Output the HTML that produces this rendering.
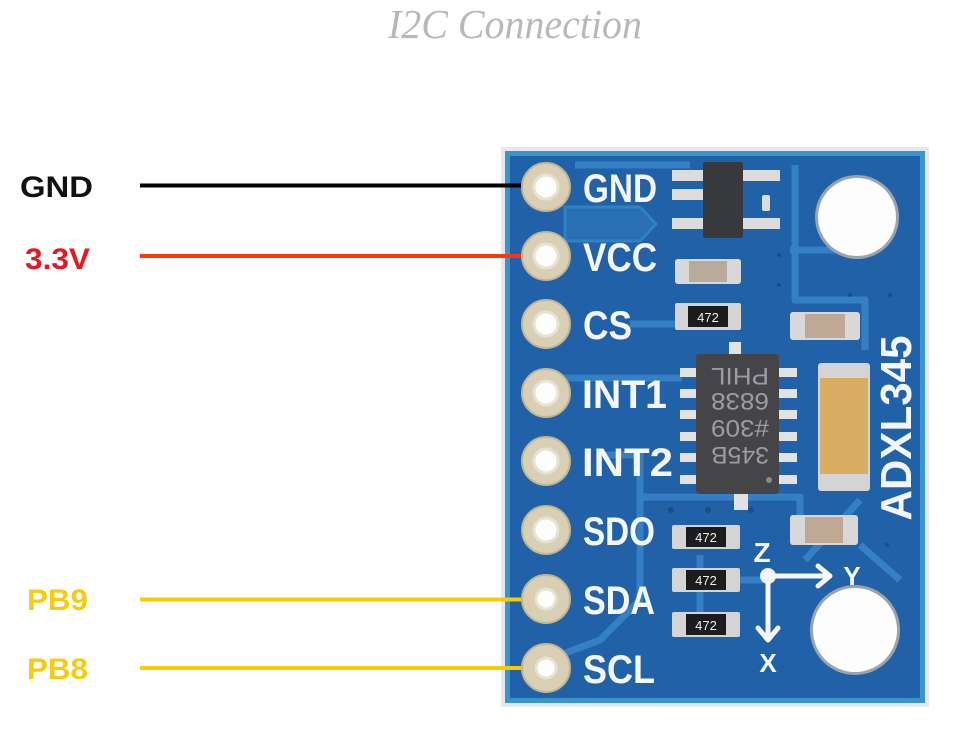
<!DOCTYPE html>
<html><head><meta charset="utf-8"><style>
html,body{margin:0;padding:0;background:#fff;}
svg{display:block;}
</style></head><body>
<svg width="960" height="731" viewBox="0 0 960 731" xmlns="http://www.w3.org/2000/svg">
<rect width="960" height="731" fill="#fff"/>
<!-- title -->
<text x="388" y="38" font-family="Liberation Serif, serif" font-style="italic" font-size="41" fill="#b8b8b8" textLength="254" lengthAdjust="spacingAndGlyphs">I2C Connection</text>

<!-- left labels -->
<g font-family="Liberation Sans, sans-serif" font-weight="bold" font-size="30">
<text x="20" y="197" fill="#111" textLength="73" lengthAdjust="spacingAndGlyphs">GND</text>
<text x="25" y="269" fill="#e8161e" textLength="65" lengthAdjust="spacingAndGlyphs">3.3V</text>
<text x="27" y="610" fill="#f7cb10" textLength="61" lengthAdjust="spacingAndGlyphs">PB9</text>
<text x="27" y="679" fill="#f7cb10" textLength="61" lengthAdjust="spacingAndGlyphs">PB8</text>
</g>

<!-- board -->
<rect x="501" y="147" width="428" height="560" fill="#e4e8ec"/>
<rect x="505" y="151" width="420" height="552" fill="#3a95cc"/>
<rect x="510" y="156" width="410" height="542" fill="#2161a8"/>

<!-- filled copper region -->
<path d="M565 207 L640 207 L656 224 L640 241 L565 241 Z" fill="#286fb3" stroke="#3180c2" stroke-width="3"/>

<!-- traces -->
<g fill="none" stroke="#3580c4" stroke-width="7" stroke-linejoin="round">
<path d="M575 165 L690 165"/>
<path d="M630 324 L676 324"/>
<path d="M560 378 L682 378"/>
<path d="M795 165 L795 300 L865 300 L865 350"/>
<path d="M790 250 L870 250"/>
<path d="M600 455 L640 455 L640 600 L600 640 L560 655"/>
<path d="M640 497 L800 497 L800 515"/>
<path d="M740 580 L768 580"/>
<path d="M700 555 L700 612"/>
<path d="M860 545 L900 580"/>
<path d="M805 560 L860 500"/>
</g>
<g fill="#1a4e8a">
<circle cx="779" cy="255" r="2"/><circle cx="779" cy="285" r="2"/><circle cx="850" cy="295" r="2"/><circle cx="890" cy="295" r="2"/>
<circle cx="671" cy="510" r="3"/><circle cx="708" cy="510" r="3"/><circle cx="751" cy="510" r="3"/><circle cx="887" cy="545" r="2"/>
</g>

<!-- wires -->
<line x1="140" y1="185.5" x2="528" y2="185.5" stroke="#000" stroke-width="4"/>
<line x1="140" y1="256" x2="528" y2="256" stroke="#ff3510" stroke-width="4"/>
<line x1="140" y1="599.5" x2="528" y2="599.5" stroke="#f7cb00" stroke-width="4"/>
<line x1="140" y1="668" x2="528" y2="668" stroke="#f7cb00" stroke-width="4"/>

<!-- pads -->
<g>
<g fill="#d8cfb4" stroke="#c2b594" stroke-width="2">
<circle cx="546" cy="187" r="24"/><circle cx="546" cy="256" r="24"/><circle cx="546" cy="324" r="24"/><circle cx="546" cy="393" r="24"/>
<circle cx="546" cy="461" r="24"/><circle cx="546" cy="530" r="24"/><circle cx="546" cy="599" r="24"/><circle cx="546" cy="668" r="24"/>
</g>
<g fill="#fdfdfb" stroke="#e8e2d2" stroke-width="3">
<circle cx="546" cy="187" r="12"/><circle cx="546" cy="256" r="12"/><circle cx="546" cy="324" r="12"/><circle cx="546" cy="393" r="12"/>
<circle cx="546" cy="461" r="12"/><circle cx="546" cy="530" r="12"/><circle cx="546" cy="599" r="10"/><circle cx="546" cy="668" r="10"/>
</g>
</g>

<!-- pin labels -->
<g font-family="Liberation Sans, sans-serif" font-weight="bold" font-size="40" fill="#f4f6f8">
<text x="583" y="202" textLength="74" lengthAdjust="spacingAndGlyphs">GND</text>
<text x="583" y="271" textLength="74" lengthAdjust="spacingAndGlyphs">VCC</text>
<text x="583" y="339" textLength="49" lengthAdjust="spacingAndGlyphs">CS</text>
<text x="582" y="408" textLength="85" lengthAdjust="spacingAndGlyphs">INT1</text>
<text x="582" y="476" textLength="91" lengthAdjust="spacingAndGlyphs">INT2</text>
<text x="583" y="545" textLength="72" lengthAdjust="spacingAndGlyphs">SDO</text>
<text x="583" y="614" textLength="72" lengthAdjust="spacingAndGlyphs">SDA</text>
<text x="583" y="683" textLength="72" lengthAdjust="spacingAndGlyphs">SCL</text>
</g>

<!-- regulator -->
<g fill="#dcdcdc">
<rect x="672" y="170" width="32" height="11"/><rect x="672" y="189" width="32" height="11"/><rect x="672" y="218" width="32" height="11"/>
<rect x="742" y="170" width="38" height="11"/><rect x="742" y="218" width="38" height="11"/>
<rect x="762" y="195" width="8" height="16" rx="2"/>
</g>
<rect x="703" y="162" width="40" height="76" rx="2" fill="#38393c"/>

<!-- capacitors -->
<g>
<rect x="675" y="259" width="66" height="25" rx="3" fill="#d8d8d8"/>
<rect x="689" y="261" width="38" height="21" fill="#b9aa9a"/>
<rect x="790" y="312" width="70" height="28" rx="3" fill="#d8d8d8"/>
<rect x="805" y="314" width="40" height="24" fill="#c0a994"/>
<rect x="790" y="515" width="68" height="30" rx="3" fill="#d8d8d8"/>
<rect x="805" y="517" width="38" height="26" fill="#c0a994"/>
</g>

<!-- resistors -->
<g font-family="Liberation Sans, sans-serif" font-size="13" fill="#eee">
<rect x="675" y="303" width="66" height="27" rx="2" fill="#d4d4d4"/>
<rect x="688" y="306" width="40" height="21" fill="#1c1c1e"/>
<text x="708" y="322" text-anchor="middle">472</text>
<rect x="672" y="525" width="68" height="24" rx="2" fill="#d4d4d4"/>
<rect x="686" y="527" width="40" height="20" fill="#1c1c1e"/>
<text x="706" y="542" text-anchor="middle">472</text>
<rect x="672" y="568" width="68" height="24" rx="2" fill="#d4d4d4"/>
<rect x="686" y="570" width="40" height="20" fill="#1c1c1e"/>
<text x="706" y="585" text-anchor="middle">472</text>
<rect x="672" y="612" width="68" height="25" rx="2" fill="#d4d4d4"/>
<rect x="686" y="614" width="40" height="21" fill="#1c1c1e"/>
<text x="706" y="630" text-anchor="middle">472</text>
</g>

<!-- main IC -->
<g fill="#e2e2e2">
<rect x="680" y="368" width="18" height="9"/><rect x="680" y="389" width="18" height="9"/><rect x="680" y="410" width="18" height="9"/>
<rect x="680" y="432" width="18" height="9"/><rect x="680" y="453" width="18" height="9"/><rect x="680" y="475" width="18" height="9"/>
<rect x="777" y="368" width="20" height="9"/><rect x="777" y="389" width="20" height="9"/><rect x="777" y="410" width="20" height="9"/>
<rect x="777" y="432" width="20" height="9"/><rect x="777" y="453" width="20" height="9"/><rect x="777" y="475" width="20" height="9"/>
<rect x="729" y="342" width="12" height="14"/><rect x="734" y="490" width="14" height="20"/>
</g>
<rect x="696" y="354" width="83" height="140" rx="3" fill="#454548"/>
<g transform="rotate(180 740 417)" font-family="Liberation Sans, sans-serif" font-size="24" fill="#9d9d9f" text-anchor="middle">
<text x="740" y="387" textLength="58" lengthAdjust="spacingAndGlyphs">345B</text>
<text x="740" y="414" textLength="58" lengthAdjust="spacingAndGlyphs">#309</text>
<text x="740" y="441" textLength="58" lengthAdjust="spacingAndGlyphs">6838</text>
<text x="740" y="466" textLength="58" lengthAdjust="spacingAndGlyphs">PHIL</text>
</g>
<circle cx="769" cy="480" r="3" fill="#8a8a8c"/>

<!-- tantalum -->
<rect x="818" y="363" width="52" height="128" rx="3" fill="#d4d4d4"/>
<rect x="820" y="378" width="48" height="96" fill="#d9ac64"/>

<!-- mounting holes -->
<circle cx="857" cy="217" r="42" fill="#9aa4ae"/>
<circle cx="857" cy="217" r="39" fill="#fdfdfd"/>
<circle cx="855" cy="630" r="45" fill="#9aa4ae"/>
<circle cx="855" cy="630" r="42" fill="#fdfdfd"/>

<!-- axes -->
<g stroke="#f4f6f8" stroke-width="5" fill="none" stroke-linecap="round" stroke-linejoin="round">
<line x1="768" y1="576" x2="828" y2="576"/>
<polyline points="818,566 830,576 818,586"/>
<line x1="768" y1="576" x2="768" y2="638"/>
<polyline points="758,628 768,640 778,628"/>
</g>
<circle cx="768" cy="576" r="8" fill="#f4f6f8"/>
<g font-family="Liberation Sans, sans-serif" font-weight="bold" fill="#f4f6f8">
<text x="762" y="562" font-size="28" text-anchor="middle">Z</text>
<text x="852" y="585" font-size="26" text-anchor="middle">Y</text>
<text x="768" y="672" font-size="26" text-anchor="middle">X</text>
</g>

<!-- ADXL345 -->
<text transform="translate(911 428) rotate(-90)" x="0" y="0" font-family="Liberation Sans, sans-serif" font-weight="bold" font-size="44" fill="#f4f6f8" text-anchor="middle" textLength="185" lengthAdjust="spacingAndGlyphs">ADXL345</text>
</svg>
</body></html>
